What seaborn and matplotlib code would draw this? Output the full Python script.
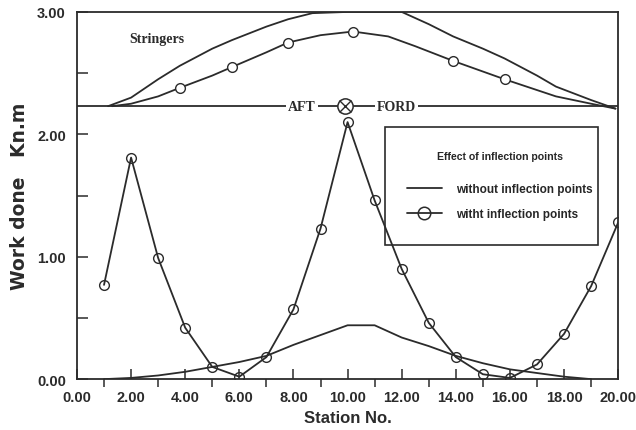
import matplotlib
matplotlib.use("Agg")
import matplotlib.pyplot as plt
import seaborn as sns
import pandas as pd
from matplotlib.lines import Line2D
from matplotlib.patches import Rectangle

# Work done per station
stations = list(range(1, 21))
with_inflection = [0.77, 1.81, 0.99, 0.42, 0.10, 0.02, 0.18, 0.57, 1.23, 2.10,
                   1.46, 0.90, 0.46, 0.18, 0.04, 0.01, 0.12, 0.37, 0.76, 1.28]
stations_without = list(range(1, 20))
without_inflection = [0.00, 0.01, 0.03, 0.06, 0.10, 0.14, 0.19, 0.28, 0.36, 0.44,
                      0.44, 0.34, 0.27, 0.19, 0.13, 0.08, 0.05, 0.02, 0.00]

# Stringer sketch above the chart (hull baseline and two stringer profiles)
baseline_level = 2.23
outer_x = [1.15, 2, 3, 3.8, 5, 5.73, 7, 7.8, 8.7, 10, 12, 13, 13.9, 15, 15.8, 17, 17.7, 19, 19.9]
outer_y = [2.23, 2.30, 2.45, 2.56, 2.70, 2.77, 2.88, 2.94, 2.99, 3.00, 3.00, 2.90, 2.80,
           2.70, 2.62, 2.48, 2.39, 2.28, 2.21]
inner_x = [1.3, 2, 3, 3.8, 5, 5.73, 7, 7.8, 9, 10.2, 11.5, 12.5, 13.9, 15.8, 17.7, 19, 19.9]
inner_y = [2.23, 2.25, 2.31, 2.38, 2.48, 2.55, 2.67, 2.75, 2.81, 2.84, 2.80, 2.72, 2.60,
           2.45, 2.31, 2.25, 2.21]
inner_marks_x = [3.8, 5.73, 7.8, 10.2, 13.9, 15.8]
inner_marks_y = [2.38, 2.55, 2.75, 2.84, 2.60, 2.45]

x_ticks = [0, 2, 4, 6, 8, 10, 12, 14, 16, 18, 20]
y_ticks = [0, 1, 2, 3]

sns.set_theme(style="white")
plt.rcParams["font.family"] = ["Liberation Sans Narrow", "Liberation Sans", "DejaVu Sans"]

ink = "#2b2b2b"
fig = plt.figure(figsize=(6.36, 4.31), dpi=100)
ax = fig.add_axes([0.121, 0.118, 0.851, 0.852])

df_with = pd.DataFrame({"station": stations, "work": with_inflection})
df_without = pd.DataFrame({"station": stations_without, "work": without_inflection})

sns.lineplot(data=df_without, x="station", y="work", ax=ax, color=ink, lw=1.3,
             estimator=None, sort=False)
sns.lineplot(data=df_with, x="station", y="work", ax=ax, color=ink, lw=1.3,
             marker="o", markersize=7, markerfacecolor="none",
             markeredgecolor=ink, markeredgewidth=1.0, estimator=None, sort=False)

# Stringer sketch
ax.plot([0, 20], [baseline_level, baseline_level], color=ink, lw=1.3)
ax.plot(outer_x, outer_y, color=ink, lw=1.3)
ax.plot(inner_x, inner_y, color=ink, lw=1.3)
ax.plot(inner_marks_x, inner_marks_y, ls="none", marker="o", markersize=7,
        markerfacecolor="white", markeredgecolor=ink, markeredgewidth=1.0)
ax.text(1.95, 2.78, "Stringers", family="Liberation Serif", fontsize=10,
        fontweight="bold", color=ink, va="center", ha="left")
ax.text(8.3, baseline_level, "AFT", family="Liberation Serif", fontsize=10,
        fontweight="bold", color=ink, va="center", ha="center",
        bbox=dict(facecolor="white", edgecolor="none", pad=1.5))
ax.text(11.8, baseline_level, "FORD", family="Liberation Serif", fontsize=10,
        fontweight="bold", color=ink, va="center", ha="center",
        bbox=dict(facecolor="white", edgecolor="none", pad=1.5))
ax.plot([9.9], [baseline_level], marker="o", markersize=11, markerfacecolor="white",
        markeredgecolor=ink, markeredgewidth=1.1)
ax.plot([9.9], [baseline_level], marker="x", markersize=8, color=ink, markeredgewidth=1.0)

ax.set_xlim(0, 20)
ax.set_ylim(0, 3)
ax.set_xticks(x_ticks)
ax.set_xticklabels([f"{v:.2f}" for v in x_ticks])
ax.set_xticks(range(1, 20, 2), minor=True)
ax.set_yticks(y_ticks)
ax.set_yticklabels([f"{v:.2f}" for v in y_ticks])
ax.set_yticks([0.5, 1.5, 2.5], minor=True)

ax.tick_params(axis="x", which="major", direction="in", length=7, width=1.1,
               color=ink, labelsize=10.5, labelcolor=ink, pad=8)
ax.tick_params(axis="x", which="minor", direction="out", length=6, width=1.1, color=ink)
ax.tick_params(axis="y", which="both", direction="in", length=8, width=1.1,
               color=ink, labelsize=10.5, labelcolor=ink, pad=8)
ax.tick_params(axis="both", which="both", bottom=True, left=True, top=False, right=False)
for lab in ax.get_xticklabels() + ax.get_yticklabels():
    lab.set_fontweight("bold")

for side in ["left", "right", "top", "bottom"]:
    ax.spines[side].set_visible(True)
    ax.spines[side].set_color(ink)
    ax.spines[side].set_linewidth(1.3)

ax.set_xlabel("Station No.", fontsize=12, fontweight="bold", color=ink, labelpad=4)
ax.set_ylabel("Work done   Kn.m", fontsize=13.5, fontweight="bold", color=ink,
              labelpad=6, family=["DejaVu Sans"])

# Legend: entries drawn by the legend, box drawn separately
handles = [
    Line2D([], [], color=ink, lw=1.3),
    Line2D([], [], color=ink, lw=1.3, marker="o", markersize=9,
           markerfacecolor="none", markeredgecolor=ink, markeredgewidth=1.1),
]
leg = ax.legend(handles, ["without inflection points", "witht inflection points"],
                title="Effect of inflection points", loc="upper left",
                bbox_to_anchor=(0.574, 0.672), frameon=False,
                fontsize=8.5, title_fontsize=7.6, handlelength=3.0,
                handletextpad=1.2, labelspacing=1.1, borderpad=1.6,
                borderaxespad=0)
leg.get_title().set_fontweight("bold")
leg._legend_box.sep = 16
for t in leg.get_texts():
    t.set_fontweight("bold")
ax.add_patch(Rectangle((0.569, 0.365), 0.394, 0.322, transform=ax.transAxes,
                       facecolor="none", edgecolor=ink, lw=1.2, zorder=5))

fig.savefig("out.png", dpi=100, facecolor="white")
